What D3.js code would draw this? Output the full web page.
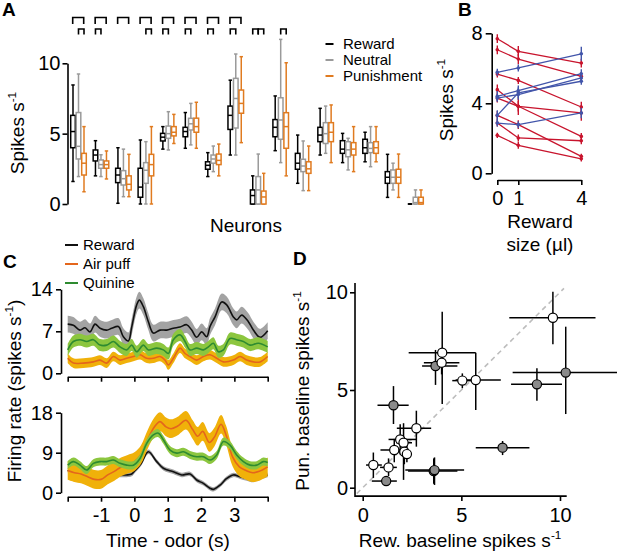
<!DOCTYPE html>
<html><head><meta charset="utf-8">
<script src="https://cdn.jsdelivr.net/npm/d3@7/dist/d3.min.js"></script>
<style>body{margin:0;background:#fff}</style>
</head><body>
<script>
// ---------- Panel A data: [whiskerLow, q1, median, q3, whiskerHigh] per neuron ----------
const neurons = d3.range(1, 17);
const conditionsA = ["Reward", "Neutral", "Punishment"];
const rewardBoxes = [
 [1.6,4.0,5.15,6.3,8.46],[2.0,3.06,3.48,3.84,4.5],[0.05,1.52,2.06,2.54,4.0],[0,0.48,1.2,2.54,4.55],
 [3.9,4.48,4.75,5.02,5.5],[3.96,4.78,5.15,5.45,6.5],[1.95,2.47,2.75,3.0,3.65],[3.48,5.3,6.3,6.96,8.8],
 [0,0,0.6,1.0,2.0],[3.79,4.78,5.45,6.0,7.68],[1.47,2.47,2.9,3.6,4.9],[3.48,4.43,4.9,5.45,6.8],
 [2.94,3.6,3.9,4.5,5.02],[3.0,3.6,4.0,4.6,5.1],[0.47,1.47,1.9,2.3,3.53],[0,0,0,0,0]];
const neutralBoxes = [
 [1.95,3.2,4.1,6.5,9.24],[1.95,2.54,2.8,3.13,3.5],[0.52,1.35,1.8,2.37,3.9],[0,1.47,2.4,2.94,4.43],
 [3.84,4.67,5.0,5.54,6.56],[4.2,5.26,5.7,6.09,7.15],[2.3,2.9,3.2,3.48,4.12],[3.48,5.4,7.5,8.93,10.66],
 [0,0,1.0,1.95,3.55],[2.94,4.6,5.97,7.55,11.7],[0.95,2.3,2.7,3.18,4.48],[3.6,4.3,5.0,5.78,6.96],
 [2.42,3.36,3.85,4.43,4.67],[2.65,3.65,3.95,4.36,5.5],[1.0,1.47,1.9,2.42,2.9],[0,0,0.1,0.48,1.0]];
const punishBoxes = [
 [0.87,2.06,2.9,3.6,5.5],[1.78,2.54,2.8,3.06,3.77],[0.52,1.0,1.4,2.0,3.53],[0,2.0,2.8,3.53,5.5],
 [4.3,4.84,5.1,5.5,6.37],[3.96,5.1,5.5,6.1,7.23],[2.0,2.8,3.1,3.55,4.26],[4.36,6.45,7.15,8.1,10.47],
 [0,0,0.5,0.92,2.18],[2.0,3.96,5.5,6.49,10.04],[0.95,2.18,2.5,3.0,4.12],[2.94,4.43,5.1,5.78,7.04],
 [2.3,3.48,3.9,4.36,5.5],[3.0,3.6,4.0,4.43,5.5],[0.47,1.47,1.9,2.47,3.55],[0,0,0.1,0.48,1.0]];
const yTicksA = [0, 5, 10];
// significance brackets: wide (reward vs punishment) neurons; small [neuron index, from cond, to cond]
const sigWide = [0,1,2,3,4,5,6,7];
const sigSmall = [[0,1,2],[1,0,1],[3,1,2],[4,0,1],[5,0,1],[6,0,1],[7,0,1],[8,0,1],[8,1,2],[9,1,2]];

// ---------- Panel B data (values at reward sizes 0,1,4 µl) ----------
const rewardSizes = [0, 1, 4];
const redLines = [[7.69,6.97,6.30],[7.06,6.53,5.54],[5.67,5.31,3.79],[4.78,3.83,3.45],
                  [4.30,3.83,2.11],[3.31,2.78,0.97],[2.87,2.02,1.86],[2.17,1.60,0.83]];
const redErr =   [[0.25,0.3,0.25],[0.25,0.3,0.25],[0.2,0.2,0.3],[0.3,0.5,0.45],
                  [0.25,0.3,0.2],[0.25,0.25,0.15],[0.2,0.2,0.2],[0.15,0.2,0.15]];
const blueLines = [[5.77,6.02,6.83],[4.40,4.72,5.69],[4.30,4.50,5.45],[3.31,4.60,5.26],[2.87,2.78,3.45]];
const blueErr =   [[0.2,0.2,0.4],[0.3,0.3,0.25],[0.2,0.3,0.2],[0.3,0.3,0.2],[0.2,0.2,0.3]];
const yTicksB = [0, 4, 8];

// ---------- Panel C data: [time (s), firing rate] ----------
const rewardTop = [[-2,8.2],[-1.83,8.0],[-1.63,7.2],[-1.48,7.6],[-1.33,6.9],[-1.18,8.2],[-1.03,7.5],[-0.83,7.2],[-0.68,7.5],[-0.48,7.8],[-0.33,6.1],[-0.18,5.4],[-0.08,7.7],[0.07,11.4],[0.15,12.2],[0.27,11.1],[0.42,8.6],[0.57,6.7],[0.77,7.2],[0.97,7.2],[1.17,7.5],[1.37,7.7],[1.57,8.1],[1.72,7.2],[1.87,6.0],[2.02,6.9],[2.17,6.1],[2.27,7.8],[2.42,9.4],[2.62,11.9],[2.77,11.4],[2.97,9.4],[3.07,8.9],[3.22,9.7],[3.42,8.6],[3.57,7.2],[3.77,6.0],[4.0,7.1]];
const airpuffTop = [[-2,2.5],[-1.83,1.7],[-1.53,1.7],[-1.23,1.9],[-1.03,2.2],[-0.83,1.7],[-0.63,2.8],[-0.43,2.2],[-0.23,2.5],[-0.03,2.8],[0.17,3.1],[0.37,2.5],[0.57,2.5],[0.77,2.8],[0.92,2.2],[1.02,1.4],[1.17,2.5],[1.37,4.2],[1.52,3.3],[1.67,2.8],[1.87,2.2],[2.07,2.8],[2.27,3.1],[2.47,2.5],[2.67,1.9],[2.97,2.2],[3.17,2.8],[3.37,2.2],[3.57,1.9],[3.77,1.9],[4.0,2.8]];
const quinineTop = [[-2,3.9],[-1.83,5.3],[-1.63,5.6],[-1.43,5.3],[-1.23,5.6],[-1.03,4.7],[-0.83,4.7],[-0.63,5.3],[-0.43,4.4],[-0.23,3.9],[-0.08,4.7],[0.07,3.6],[0.27,4.7],[0.42,3.9],[0.67,4.2],[0.87,3.9],[1.02,3.3],[1.17,5.6],[1.37,6.4],[1.52,5.3],[1.67,3.9],[1.87,4.2],[2.07,3.9],[2.22,4.4],[2.37,5.0],[2.52,3.6],[2.67,3.9],[2.87,5.8],[3.07,5.6],[3.27,5.3],[3.47,4.7],[3.72,5.0],[4.0,4.4]];
const rewardBot = [[-2,5.1],[-1.83,4.0],[-1.63,2.85],[-1.43,3.6],[-1.23,4.0],[-1.03,3.75],[-0.83,3.75],[-0.63,4.0],[-0.43,4.0],[-0.23,4.0],[-0.08,4.2],[0.02,5.0],[0.2,6.5],[0.42,9.2],[0.67,7.0],[0.87,5.5],[1.17,4.7],[1.42,4.0],[1.67,4.2],[1.87,2.85],[2.07,2.1],[2.27,1.0],[2.37,0.75],[2.57,1.7],[2.77,3.2],[2.97,4.0],[3.17,3.6],[3.37,3.2],[3.57,2.85],[3.77,3.45],[4.0,4.0]];
const airpuffBot = [[-2,5.0],[-1.8,4.5],[-1.6,4.2],[-1.4,3.6],[-1.2,3.0],[-1.0,3.0],[-0.8,4.0],[-0.6,4.8],[-0.4,5.8],[-0.2,6.4],[0,7.0],[0.2,8.6],[0.4,12.0],[0.6,14.8],[0.77,16.0],[0.95,14.8],[1.1,14.4],[1.3,15.0],[1.55,16.3],[1.75,14.2],[1.9,12.7],[2.05,13.8],[2.25,11.3],[2.4,12.5],[2.6,15.4],[2.75,13.0],[2.95,8.0],[3.15,5.8],[3.35,5.0],[3.55,4.5],[3.75,4.8],[4.0,5.8]];
const quinineBot = [[-2,6.2],[-1.83,7.0],[-1.63,6.2],[-1.43,5.1],[-1.23,6.6],[-1.03,7.0],[-0.83,7.0],[-0.63,7.35],[-0.43,6.6],[-0.23,6.2],[-0.03,6.2],[0.17,7.7],[0.37,11.1],[0.57,13.0],[0.72,13.4],[0.87,11.9],[1.07,9.6],[1.27,8.9],[1.47,9.2],[1.67,8.5],[1.87,8.1],[2.07,8.1],[2.27,7.35],[2.47,8.5],[2.67,11.5],[2.87,10.7],[3.07,8.5],[3.27,7.0],[3.47,6.2],[3.67,6.2],[3.87,7.0],[4.0,6.8]];
const semTop = {reward: 1.4, airpuff: 0.8, quinine: 1.0};
const semBot = {reward: 0.5, airpuff: 2.1, quinine: 0.9};
const timeTicks = [-2,-1,0,1,2,3,4];
const yTicksCtop = [0, 7, 14];
const yTicksCbot = [0, 9, 18];

// ---------- Panel D data: [x, y, xLow, xHigh, yLow, yHigh] ----------
const openPoints = [
 [9.64,8.70,7.43,11.8,7.34,10.03],[4.03,6.91,2.33,5.73,4.28,9.01],[4.0,6.4,3.1,4.9,5.8,7.0],
 [5.05,5.48,4.54,5.61,5.09,5.85],[5.73,5.51,4.71,7.0,3.98,6.91],[2.72,3.04,1.73,3.47,2.1,3.94],
 [1.9,2.47,1.31,2.72,1.7,3.25],[2.07,2.3,1.7,2.5,0.4,3.3],[1.6,1.93,0.9,2.35,1.3,2.5],
 [2.11,1.84,1.8,2.45,1.2,2.3],[2.24,1.72,1.9,2.4,1.3,2.2],[0.54,1.16,0.17,0.97,0.5,1.8],
 [1.31,1.04,0.88,1.73,0.6,1.5]];
const filledPoints = [
 [10.29,5.89,7.6,12.96,3.77,8.24],[8.83,5.29,7.52,10.1,4.45,6.11],[3.69,6.23,3.01,4.8,5.26,7.05],
 [1.56,4.22,0.75,2.33,3.26,5.2],[7.09,2.05,5.73,8.45,1.67,2.39],[3.6,0.85,2.3,4.8,0.2,1.5],
 [3.64,0.9,2.16,5.14,0.14,1.55],[1.19,0.34,0.46,1.73,0.2,0.5]];
const ticksD = [0, 5, 10];
const dAxisX = [-0.39, 10.34], dAxisY = [-0.43, 10.48];
const diagRange = [-0.3, 10.2];

// ---------- drawing ----------
const FONT = "'Liberation Sans', Arial, Helvetica, sans-serif";
const svg = d3.select("body").append("svg").attr("width", 617).attr("height", 552)
  .style("font-family", FONT);

function styleAxis(g, fs) {
  g.selectAll("path.domain").attr("stroke", "#000").attr("stroke-width", 1.6);
  g.selectAll(".tick line").attr("stroke", "#000").attr("stroke-width", 1.6);
  g.selectAll(".tick text").attr("font-size", fs).attr("fill", "#000").style("font-family", FONT);
  g.attr("font-family", FONT);
}
function supLabel(x, y, rot, base, sup, tail, fs, anchor) {
  const t = svg.append("text").attr("font-size", fs).attr("text-anchor", anchor || "middle")
    .attr("transform", `translate(${x},${y})` + (rot ? ` rotate(${rot})` : ""));
  t.append("tspan").text(base);
  t.append("tspan").attr("font-size", fs * 0.62).attr("dy", -fs * 0.42).text(sup);
  if (tail) t.append("tspan").attr("dy", fs * 0.42).text(tail);
  return t;
}
function panelLetter(x, y, s) {
  svg.append("text").attr("x", x).attr("y", y).attr("font-size", 19).attr("font-weight", "bold").text(s);
}

// ===== Panel A =====
const xA = d3.scaleLinear().domain([0, 15]).range([73, 410]);
const yA = d3.scaleLinear().domain([0, 10]).range([204, 63.3]);
const subOff = [0, 5.5, 11];
const colA = ["#000000", "#9a9a9a", "#e07b20"];
const boxSets = [rewardBoxes, neutralBoxes, punishBoxes];
const gA = svg.append("g");
boxSets.forEach((set, c) => {
  set.forEach((b, i) => {
    const cx = xA(i) + subOff[c], w = 4.6, cw = 3.4;
    const g = gA.append("g").attr("stroke", colA[c]).attr("stroke-width", 1.5).attr("fill", "#fff");
    g.append("line").attr("x1", cx).attr("x2", cx).attr("y1", yA(b[0])).attr("y2", yA(b[4]));
    g.append("line").attr("x1", cx - cw / 2).attr("x2", cx + cw / 2).attr("y1", yA(b[4])).attr("y2", yA(b[4]));
    g.append("line").attr("x1", cx - cw / 2).attr("x2", cx + cw / 2).attr("y1", yA(b[0])).attr("y2", yA(b[0]));
    g.append("rect").attr("x", cx - w / 2).attr("width", w).attr("y", yA(b[3])).attr("height", Math.max(0, yA(b[1]) - yA(b[3])));
    g.append("line").attr("x1", cx - w / 2).attr("x2", cx + w / 2).attr("y1", yA(b[2])).attr("y2", yA(b[2]));
  });
});
// brackets
const brk = svg.append("g").attr("stroke", "#000").attr("stroke-width", 1.6).attr("fill", "none");
sigWide.forEach(i => {
  const x1 = xA(i) - 0.3, x2 = xA(i) + subOff[2] - 0.3;
  brk.append("path").attr("d", `M${x1},24V17.5H${x2}V24`);
});
sigSmall.forEach(([i, a, b]) => {
  const x1 = xA(i) + subOff[a], x2 = xA(i) + subOff[b];
  brk.append("path").attr("d", `M${x1},34.5V29H${x2}V34.5`);
});
const axA = svg.append("g").attr("transform", "translate(67.5,0)")
  .call(d3.axisLeft(yA).tickValues(yTicksA).tickSize(5).tickSizeOuter(0).tickPadding(2));
styleAxis(axA, 20);
supLabel(24, 133, -90, "Spikes s", "-1", null, 19);
svg.append("text").attr("x", 246).attr("y", 232).attr("text-anchor", "middle").attr("font-size", 19).text("Neurons");
conditionsA.forEach((name, c) => {
  const y = 44 + c * 16;
  svg.append("line").attr("x1", 325.5).attr("x2", 333.5).attr("y1", y).attr("y2", y).attr("stroke", colA[c]).attr("stroke-width", 2);
  svg.append("text").attr("x", 343).attr("y", y).attr("dy", "0.36em").attr("font-size", 15).text(name);
});
panelLetter(2, 16, "A");

// ===== Panel B =====
const xB = d3.scaleLinear().domain([0, 4]).range([497.3, 581.3]);
const yB = d3.scaleLinear().domain([0, 8]).range([173.3, 33.3]);
const lineB = d3.line().x((d, j) => xB(rewardSizes[j])).y(d => yB(d));
function drawB(lines, errs, color) {
  const g = svg.append("g");
  lines.forEach((vals, k) => {
    g.append("path").attr("d", lineB(vals)).attr("fill", "none").attr("stroke", color).attr("stroke-width", 1.3);
    vals.forEach((v, j) => {
      const e = errs[k][j], x = xB(rewardSizes[j]);
      g.append("line").attr("x1", x).attr("x2", x).attr("y1", yB(v - e)).attr("y2", yB(v + e)).attr("stroke", color).attr("stroke-width", 1.4);
      g.append("circle").attr("cx", x).attr("cy", yB(v)).attr("r", 1.8).attr("fill", color);
    });
  });
}
drawB(redLines, redErr, "#c8142d");
drawB(blueLines, blueErr, "#4255aa");
const axBy = svg.append("g").attr("transform", "translate(491.7,0)")
  .call(d3.axisLeft(yB).tickValues(yTicksB).tickSize(6).tickSizeOuter(0).tickPadding(3));
styleAxis(axBy, 20);
const axBx = svg.append("g").attr("transform", "translate(0,180)")
  .call(d3.axisBottom(xB).tickValues(rewardSizes).tickSize(5).tickSizeOuter(0).tickPadding(6).tickFormat(d3.format("d")));
styleAxis(axBx, 20);
supLabel(453, 100, -90, "Spikes s", "-1", null, 19);
svg.append("text").attr("x", 540).attr("y", 228).attr("text-anchor", "middle").attr("font-size", 19).text("Reward");
svg.append("text").attr("x", 540).attr("y", 251).attr("text-anchor", "middle").attr("font-size", 19).text("size (µl)");
panelLetter(458, 16, "B");

// ===== Panel C =====
const xC = d3.scaleLinear().domain([-2, 4]).range([67.7, 267.7]);
const yCt = d3.scaleLinear().domain([0, 14]).range([373.3, 289.3]);
const yCb = d3.scaleLinear().domain([0, 18]).range([492.7, 412.7]);
const cColors = {
  reward: {line: "#111111", band: "#a3a3a3"},
  airpuff: {line: "#e4661c", band: "#f0b10a"},
  quinine: {line: "#2e8b30", band: "#8cc63f"}
};
function drawSeries(data, key, ys, sem) {
  const curve = d3.curveCatmullRom.alpha(0.5);
  const area = d3.area().curve(curve).x(d => xC(d[0])).y0(d => ys(Math.max(0, d[1] - sem))).y1(d => ys(d[1] + sem));
  const line = d3.line().curve(curve).x(d => xC(d[0])).y(d => ys(d[1]));
  svg.append("path").attr("d", area(data)).attr("fill", cColors[key].band).attr("stroke", "none");
  svg.append("path").attr("d", line(data)).attr("fill", "none").attr("stroke", cColors[key].line).attr("stroke-width", 1.6);
}
drawSeries(rewardTop, "reward", yCt, semTop.reward);
drawSeries(airpuffTop, "airpuff", yCt, semTop.airpuff);
drawSeries(quinineTop, "quinine", yCt, semTop.quinine);
drawSeries(rewardBot, "reward", yCb, semBot.reward);
drawSeries(airpuffBot, "airpuff", yCb, semBot.airpuff);
drawSeries(quinineBot, "quinine", yCb, semBot.quinine);

const axCty = svg.append("g").attr("transform", "translate(61,0)")
  .call(d3.axisLeft(yCt).tickValues(yTicksCtop).tickSize(5).tickSizeOuter(0).tickPadding(3));
styleAxis(axCty, 20);
const axCtx = svg.append("g").attr("transform", "translate(0,376.7)")
  .call(d3.axisBottom(xC).tickValues(timeTicks).tickSize(5).tickSizeOuter(0).tickFormat(""));
styleAxis(axCtx, 20);
const axCby = svg.append("g").attr("transform", "translate(61,0)")
  .call(d3.axisLeft(yCb).tickValues(yTicksCbot).tickSize(5).tickSizeOuter(0).tickPadding(3));
styleAxis(axCby, 20);
const axCbx = svg.append("g").attr("transform", "translate(0,496.7)")
  .call(d3.axisBottom(xC).tickValues(timeTicks).tickSize(5).tickSizeOuter(0).tickPadding(6)
    .tickFormat(d => (d === -2 || d === 4) ? "" : String(d)));
styleAxis(axCbx, 20);
supLabel(21, 391, -90, "Firing rate (spikes s", "-1", ")", 19);
svg.append("text").attr("x", 168).attr("y", 547).attr("text-anchor", "middle").attr("font-size", 19).text("Time - odor (s)");
const legendC = [["Reward", "reward"], ["Air puff", "airpuff"], ["Quinine", "quinine"]];
legendC.forEach(([name, key], k) => {
  const y = 245 + k * 19;
  svg.append("line").attr("x1", 65).attr("x2", 78).attr("y1", y).attr("y2", y).attr("stroke", cColors[key].line).attr("stroke-width", 2);
  svg.append("text").attr("x", 83).attr("y", y).attr("dy", "0.36em").attr("font-size", 15).text(name);
});
panelLetter(3, 268, "C");

// ===== Panel D =====
const xD = d3.scaleLinear().domain([0, 10]).range([362.7, 560]);
const yD = d3.scaleLinear().domain([0, 10]).range([487.7, 292.3]);
svg.append("line").attr("x1", xD(diagRange[0])).attr("y1", yD(diagRange[0]))
  .attr("x2", xD(diagRange[1])).attr("y2", yD(diagRange[1]))
  .attr("stroke", "#bdbdbd").attr("stroke-width", 1.6).attr("stroke-dasharray", "5,4");
const gD = svg.append("g");
function errBars(p) {
  gD.append("line").attr("x1", xD(p[2])).attr("x2", xD(p[3])).attr("y1", yD(p[1])).attr("y2", yD(p[1])).attr("stroke", "#000").attr("stroke-width", 1.5);
  gD.append("line").attr("x1", xD(p[0])).attr("x2", xD(p[0])).attr("y1", yD(p[4])).attr("y2", yD(p[5])).attr("stroke", "#000").attr("stroke-width", 1.5);
}
filledPoints.forEach(errBars);
openPoints.forEach(errBars);
filledPoints.forEach(p => gD.append("circle").attr("cx", xD(p[0])).attr("cy", yD(p[1])).attr("r", 4.6)
  .attr("fill", "#8a8a8a").attr("stroke", "#000").attr("stroke-width", 1.2));
openPoints.forEach(p => gD.append("circle").attr("cx", xD(p[0])).attr("cy", yD(p[1])).attr("r", 4.6)
  .attr("fill", "#fff").attr("stroke", "#000").attr("stroke-width", 1.2));
// axes
const axDx = svg.append("g").attr("transform", "translate(0,496)")
  .call(d3.axisBottom(xD).tickValues(ticksD).tickSize(5).tickSizeOuter(0).tickPadding(6.5));
axDx.select("path.domain").remove();
styleAxis(axDx, 20);
const axDy = svg.append("g").attr("transform", "translate(355,0)")
  .call(d3.axisLeft(yD).tickValues(ticksD).tickSize(5).tickSizeOuter(0).tickPadding(2));
axDy.select("path.domain").remove();
styleAxis(axDy, 20);
svg.append("path").attr("fill", "none").attr("stroke", "#000").attr("stroke-width", 1.6)
  .attr("d", `M${xD(dAxisX[0])},${yD(dAxisY[1])}V${yD(dAxisY[0])}H${xD(dAxisX[1])}`);
supLabel(460, 547, 0, "Rew. baseline spikes s", "-1", null, 19);
supLabel(309, 391, -90, "Pun. baseline spikes s", "-1", null, 19);
panelLetter(293, 265, "D");
</script>
</body></html>
